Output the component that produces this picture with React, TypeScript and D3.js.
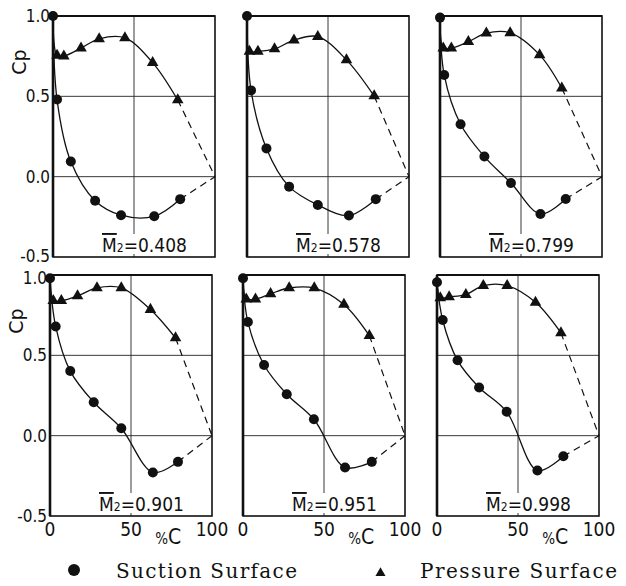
import React from "react";
import * as d3 from "d3";

// Exit Mach number of each panel
const machNumbers = ["0.408", "0.578", "0.799", "0.901", "0.951", "0.998"];

// Suction surface: chord position (%C) and pressure coefficient per panel
const suctionX = [
  [0, 2.5, 11, 26, 42, 62.5, 78.5],
  [0, 2.5, 12, 26, 43.7, 62.9, 79.5],
  [0, 2.6, 12.7, 27.4, 43.8, 62, 77.6],
  [0, 3.5, 12.5, 27, 44, 63.5, 79],
  [0, 3, 13, 27, 43.75, 63, 79.5],
  [0, 3.5, 12.7, 26, 43, 62, 78],
];
const suctionCp = [
  [1.0, 0.48, 0.094, -0.15, -0.24, -0.246, -0.14],
  [1.0, 0.537, 0.176, -0.062, -0.176, -0.242, -0.14],
  [0.99, 0.633, 0.326, 0.125, -0.039, -0.232, -0.139],
  [0.98, 0.68, 0.402, 0.208, 0.046, -0.229, -0.163],
  [0.98, 0.708, 0.44, 0.258, 0.102, -0.198, -0.163],
  [0.955, 0.72, 0.469, 0.3, 0.149, -0.217, -0.128],
];

// Pressure surface
const pressureX = [
  [2.5, 6.7, 17.3, 28.5, 44.4, 61.5, 77],
  [1.5, 6.75, 17, 29, 43.7, 61.4, 78.5],
  [2, 7, 17.5, 28.6, 43.3, 61.5, 75.2],
  [2, 7, 17, 29, 44, 62, 77.5],
  [2, 7.7, 17, 28.5, 44, 62.3, 78],
  [2, 7.5, 17.8, 28.6, 43.3, 60.8, 76.5],
];
const pressureCp = [
  [0.754, 0.75, 0.8, 0.858, 0.864, 0.71, 0.477],
  [0.78, 0.78, 0.795, 0.85, 0.872, 0.727, 0.502],
  [0.8, 0.8, 0.84, 0.893, 0.895, 0.758, 0.551],
  [0.84, 0.84, 0.87, 0.92, 0.92, 0.785, 0.608],
  [0.85, 0.85, 0.883, 0.919, 0.919, 0.817, 0.623],
  [0.857, 0.864, 0.878, 0.934, 0.934, 0.83, 0.64],
];

// Trailing edge where both surfaces close
const trailingEdge: [number, number] = [100, 0];

const yTicks = [1.0, 0.5, 0.0, -0.5];
const yTickLabels = ["1.0", "0.5", "0.0", "-0.5"];
const xTicks = [0, 50, 100];
const gridCp = [0.5, 0.0];
const gridX = [50];
const legendLabels = ["Suction Surface", "Pressure Surface"];

const W = 626;
const H = 586;
const colLeft = [
  [53, 247, 440],
  [50, 243, 437],
];
const rowTop = [16, 275];
const PW = 162;
const PH = 241;

const numFont = "'DejaVu Sans', sans-serif";
const legendFont = "'DejaVu Serif', serif";

function Panel({ idx }: { idx: number }) {
  const row = Math.floor(idx / 3);
  const col = idx % 3;
  const left = colLeft[row][col];
  const top = rowTop[row];
  const x = d3.scaleLinear().domain([0, 100]).range([left, left + PW]);
  const y = d3.scaleLinear().domain([-0.5, 1.0]).range([top + PH, top]);

  const suction: [number, number][] = suctionX[idx].map((v, i) => [v, suctionCp[idx][i]]);
  const pressure: [number, number][] = pressureX[idx].map((v, i) => [v, pressureCp[idx][i]]);
  const pressureCurve: [number, number][] = [suction[0], ...pressure];

  const smooth = d3
    .line<[number, number]>()
    .x((d) => x(d[0]))
    .y((d) => y(d[1]))
    .curve(d3.curveCatmullRom.alpha(0.5));
  const straight = d3
    .line<[number, number]>()
    .x((d) => x(d[0]))
    .y((d) => y(d[1]));

  const tri = d3.symbol().type(d3.symbolTriangle).size(58)();
  const labelX = left + 49;
  const labelBase = top + PH - 5;

  // keep the stacked "-0.5" / "1.0" labels between rows apart
  const tickShift = (i: number) => (row === 1 && i === 0 ? 3 : row === 0 && i === 3 ? -1 : 0);

  return (
    <g>
      {gridCp.map((c) => (
        <line key={"h" + c} x1={x(0)} x2={x(100)} y1={y(c)} y2={y(c)} stroke="#222" strokeWidth={0.9} />
      ))}
      {gridX.map((g) => (
        <line key={"v" + g} x1={x(g)} x2={x(g)} y1={y(1)} y2={y(-0.5)} stroke="#222" strokeWidth={0.9} />
      ))}
      <rect x={labelX - 3} y={labelBase - 18} width={90} height={20} fill="#fff" />
      <text x={labelX} y={labelBase} fontFamily={numFont} fontStretch="condensed" fontSize={19} fill="#111">
        <tspan style={{ textDecoration: "overline" }}>M</tspan>
        <tspan fontSize={12}>2</tspan>
        <tspan>={machNumbers[idx]}</tspan>
      </text>
      <rect x={x(0)} y={y(1)} width={PW} height={PH} fill="none" stroke="#111" strokeWidth={1.6} />
      <line x1={x(0)} x2={x(0)} y1={y(1)} y2={y(-0.5)} stroke="#111" strokeWidth={2.6} />
      <line x1={x(0)} x2={x(100)} y1={y(1)} y2={y(1)} stroke="#111" strokeWidth={2} />
      <path d={smooth(suction) ?? ""} fill="none" stroke="#111" strokeWidth={1.3} />
      <path d={smooth(pressureCurve) ?? ""} fill="none" stroke="#111" strokeWidth={1.3} />
      <path
        d={straight([suction[suction.length - 1], trailingEdge]) ?? ""}
        fill="none"
        stroke="#111"
        strokeWidth={1.2}
        strokeDasharray="7,5"
      />
      <path
        d={straight([pressure[pressure.length - 1], trailingEdge]) ?? ""}
        fill="none"
        stroke="#111"
        strokeWidth={1.2}
        strokeDasharray="7,5"
      />
      {suction.map((d, i) => (
        <circle key={"s" + i} cx={x(d[0])} cy={y(d[1])} r={5} fill="#111" />
      ))}
      {pressure.map((d, i) => (
        <path key={"p" + i} d={tri ?? ""} transform={`translate(${x(d[0])},${y(d[1])})`} fill="#111" />
      ))}
      {col === 0 &&
        yTicks.map((t, i) => (
          <text
            key={"yt" + i}
            x={x(0) - 3}
            y={y(t) + tickShift(i)}
            dy="0.36em"
            textAnchor="end"
            fontFamily={numFont}
            fontStretch="condensed"
            fontSize={17}
            fill="#111"
          >
            {yTickLabels[i]}
          </text>
        ))}
      {col === 0 && (
        <text
          transform={`translate(${left - 27},${top + 46}) rotate(-90)`}
          textAnchor="middle"
          fontFamily={numFont}
          fontSize={19}
          fill="#111"
        >
          Cp
        </text>
      )}
      {row === 1 &&
        xTicks.map((t) => (
          <text
            key={"xt" + t}
            x={x(t)}
            y={top + PH + 20}
            textAnchor="middle"
            fontFamily={numFont}
            fontStretch="condensed"
            fontSize={19}
            fill="#111"
          >
            {t}
          </text>
        ))}
      {row === 1 && (
        <text x={x(73)} y={top + PH + 28} textAnchor="middle" fontFamily={numFont} fontStretch="condensed" fill="#111">
          <tspan fontSize={15}>%</tspan>
          <tspan fontSize={21}>C</tspan>
        </text>
      )}
    </g>
  );
}

export default function App() {
  const tri = d3.symbol().type(d3.symbolTriangle).size(44)();
  return (
    <svg
      width={W}
      height={H}
      viewBox={`0 0 ${W} ${H}`}
      style={{ position: "absolute", left: 0, top: 0, background: "#fff" }}
    >
      <rect x={0} y={0} width={W} height={H} fill="#fff" />
      {machNumbers.map((_, i) => (
        <Panel key={i} idx={i} />
      ))}
      <circle cx={74} cy={570} r={6} fill="#111" />
      <text x={116} y={578} fontFamily={legendFont} fontSize={20} textLength={181} lengthAdjust="spacing" fill="#111">
        {legendLabels[0]}
      </text>
      <path d={tri ?? ""} transform="translate(380.5,573)" fill="#111" />
      <text x={420} y={578} fontFamily={legendFont} fontSize={20} textLength={197} lengthAdjust="spacing" fill="#111">
        {legendLabels[1]}
      </text>
    </svg>
  );
}
